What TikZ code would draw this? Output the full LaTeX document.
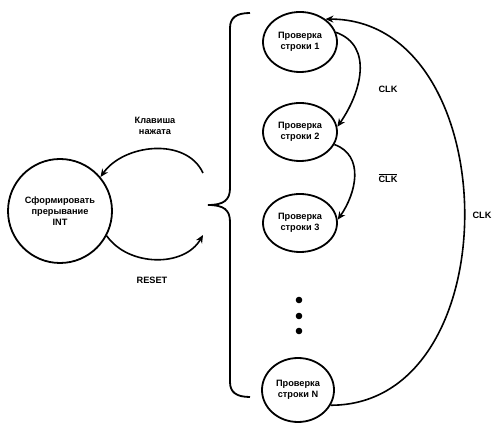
\documentclass[tikz,border=0pt]{standalone}
\usepackage{fontspec}
\setmainfont{Liberation Sans}
\usetikzlibrary{shapes.geometric,arrows.meta}

\tikzset{
	state/.style={draw, ellipse, line width=1.8pt, inner sep=0pt, align=center,
		minimum width=74pt, minimum height=60pt},
	lbl/.style={align=center},
	arr/.style={line width=1.6pt, -{Stealth[length=8pt,width=7pt]}}
}

\begin{document}
\begin{tikzpicture}
	[x=1pt, y=1pt, font=\fontsize{9.2}{10.8}\selectfont\bfseries]
	\useasboundingbox (0,0) rectangle (500,428);
	% \draw [help lines, step=20] (0,0) grid (500,428);
	\node[state, minimum width=104pt, minimum height=104pt] (int) at (60,217)
		{Сформировать\\прерывание\\INT};
	\node[state] (r1) at (300,386) {Проверка\\строки 1};
	\node[state, minimum height=58pt] (r2) at (300,296) {Проверка\\строки 2};
	\node[state, minimum height=58pt] (r3) at (300,205) {Проверка\\строки 3};
	\node[state, minimum width=72pt, minimum height=64pt] (rN) at (298,38) {Проверка\\строки N};
	\foreach \y in {97,112,128}{
		\fill (299,\y) circle (3.3);
	}
	% brace
	\draw[line width=1.8pt] (250,415) .. controls (236,415) and (230,410) .. (230,400)
		-- (230,240) .. controls (230,228) and (224,223) .. (208,223)
		.. controls (224,223) and (230,218) .. (230,206)
		-- (230,46) .. controls (230,36) and (236,31) .. (250,31);
	\coordinate (up) at (203,255);
	\coordinate (dn) at (203,193);
	\draw[arr] (up) to[out=115, in=55] (int.40);
	\draw[arr] (int.-28) to[out=-55, in=-120] (dn);
	\draw[arr] (r1.15) to[out=-20, in=55, looseness=1.1] (r2.8);
	\draw[arr] (r2.-20) to[out=-20, in=55, looseness=1.1] (r3.5);
	\draw[arr] (rN.-25) to[out=0, in=0, looseness=1.2] (r1.42);
	\node[lbl] (key) at (155,302) {Клавиша\\нажата};
	\node[lbl] (rst) at (152,148) {RESET};
	\node[lbl] (clk1) at (388,339) {CLK};
	\node[lbl] (clk2) at (388,250) {$\overline{\mbox{CLK}}$};
	\node[lbl] (clk3) at (482,213) {CLK};
\end{tikzpicture}
\end{document}
